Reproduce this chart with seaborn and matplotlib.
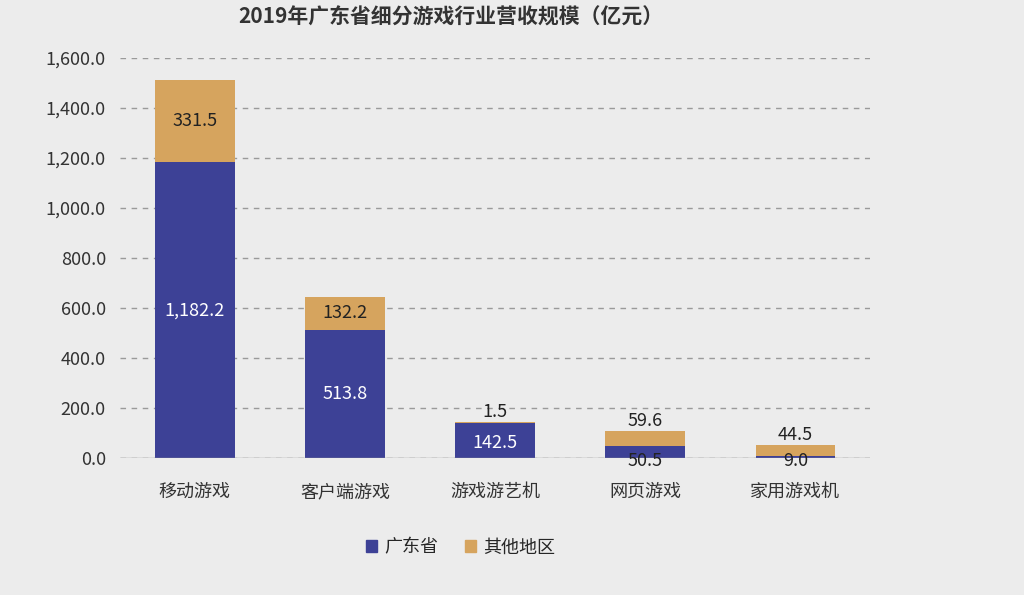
import matplotlib.pyplot as plt
import seaborn as sns
import pandas as pd

categories = ["移动游戏", "客户端游戏", "游戏游艺机", "网页游戏", "家用游戏机"]
guangdong = [1182.2, 513.8, 142.5, 50.5, 9.0]
others = [331.5, 132.2, 1.5, 59.6, 44.5]
yticks = [0, 200, 400, 600, 800, 1000, 1200, 1400, 1600]

sns.set_style("white")
plt.rcParams['font.family'] = ['Noto Sans CJK SC', 'DejaVu Sans']

df = pd.DataFrame({"cat": categories, "gd": guangdong, "ot": others})
df["total"] = df["gd"] + df["ot"]

blue = "#3d4196"
orange = "#d6a45e"
bg = "#ececec"

fig = plt.figure(figsize=(10.24, 5.95), dpi=100, facecolor=bg)
ax = fig.add_axes([0.117, 0.23, 0.733, 0.6725], facecolor=bg)

sns.barplot(data=df, x="cat", y="total", color=orange, width=0.53, saturation=1,
            linewidth=0, ax=ax)
sns.barplot(data=df, x="cat", y="gd", color=blue, width=0.53, saturation=1,
            linewidth=0, ax=ax)

ax.set_ylim(0, 1600)
ax.set_yticks(yticks)
ax.set_yticklabels([f"{v:,.1f}" for v in yticks], fontsize=13, color="#333333")
ax.tick_params(axis="x", labelsize=13, colors="#333333", length=0, pad=18)
ax.tick_params(axis="y", length=0, pad=10)
ax.set_xlabel("")
ax.set_ylabel("")
ax.yaxis.grid(True, linestyle=(0, (4, 4)), color="#9a9a9a", linewidth=1)
ax.set_axisbelow(True)
for s in ax.spines.values():
    s.set_visible(False)
ax.axhline(0, color="#999999", linewidth=1)

for i, (g, o) in enumerate(zip(guangdong, others)):
    if g > 100:
        ax.text(i, g / 2 + (0 if i != 2 else -10), f"{g:,.1f}", ha="center", va="center",
                color="white", fontsize=13)
    else:
        ax.text(i, -10, f"{g:,.1f}", ha="center", va="center", color="#222222", fontsize=13)
    if o > 100:
        ax.text(i, g + o / 2, f"{o:,.1f}", ha="center", va="center", color="#222222", fontsize=13)
    else:
        ax.text(i, g + o + 40, f"{o:,.1f}", ha="center", va="center", color="#222222", fontsize=13)

fig.text(0.44, 0.972, "2019年广东省细分游戏行业营收规模（亿元）", ha="center", va="center",
         fontsize=15, fontweight="bold", color="#333333")

h1 = plt.Rectangle((0, 0), 1, 1, color=blue)
h2 = plt.Rectangle((0, 0), 1, 1, color=orange)
fig.legend([h1, h2], ["广东省", "其他地区"], loc="center", bbox_to_anchor=(0.45, 0.08),
           ncol=2, frameon=False, fontsize=13, handlelength=0.6, handleheight=0.6,
           columnspacing=1.5, handletextpad=0.4)

fig.savefig("out.png", dpi=100, facecolor=bg)
